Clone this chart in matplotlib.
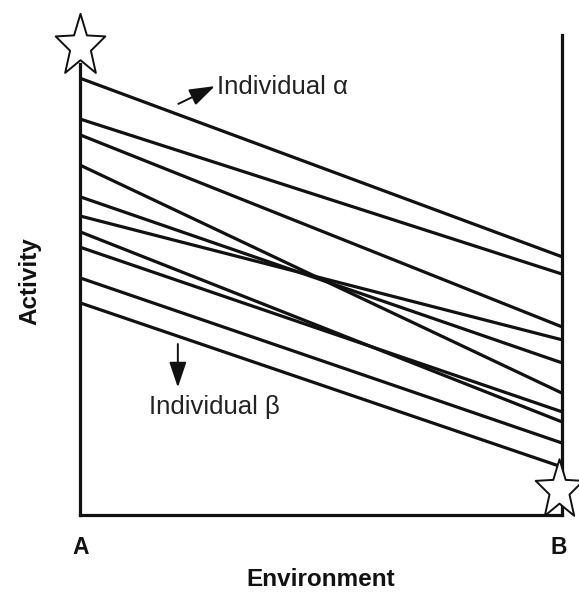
#!/usr/bin/env python3
"""Reaction norms of individuals across an environmental gradient (A -> B)."""

import matplotlib.pyplot as plt
import numpy as np
from matplotlib.path import Path

# activity of each individual in environment A and in environment B
ACTIVITY_A = [9.10, 8.25, 7.92, 7.29, 6.63, 6.23, 5.90, 5.58, 4.94, 4.42]
ACTIVITY_B = [5.38, 5.02, 3.92, 2.54, 3.17, 3.65, 1.94, 2.15, 1.50, 1.00]
ENV_TICKS = ["A", "B"]

INK = "#111111"
FONT = "Liberation Sans"


def star_marker(stretch=1.25, inner=0.42):
    """Five-point star, a bit taller than wide like the hand-drawn ones."""
    ang = np.deg2rad(90 + 36 * np.arange(10))
    r = np.where(np.arange(10) % 2 == 0, 1.0, inner)
    verts = np.column_stack([r * np.cos(ang), r * np.sin(ang) * stretch])
    verts = np.vstack([verts, verts[:1]])
    codes = [Path.MOVETO] + [Path.LINETO] * 9 + [Path.CLOSEPOLY]
    return Path(verts, codes)


fig = plt.figure(figsize=(5.79, 5.94), dpi=100)
ax = fig.add_axes([80 / 579, 79 / 594, 482 / 579, 480 / 594])
ax.set_xlim(0, 1)
ax.set_ylim(0, 10)

for a, b in zip(ACTIVITY_A, ACTIVITY_B):
    ax.plot([0, 1], [a, b], color=INK, linewidth=2.3, solid_capstyle="butt")

# axes: left line stops under the star, right one runs to the top
ax.spines["top"].set_visible(False)
for side in ("left", "right", "bottom"):
    ax.spines[side].set_linewidth(2.3)
    ax.spines[side].set_color(INK)
ax.spines["left"].set_bounds(0, 9.4)
ax.set_xticks([])
ax.set_yticks([])

star = star_marker()
ax.plot([0], [9.77], marker=star, markersize=47, markerfacecolor="white",
        markeredgecolor=INK, markeredgewidth=1.4, clip_on=False, zorder=5)
ax.plot([0.994], [0.52], marker=star, markersize=45, markerfacecolor="white",
        markeredgecolor=INK, markeredgewidth=1.4, clip_on=False, zorder=5)

# annotations
head = "-|>,head_length=0.65,head_width=0.22"
ax.annotate("", xy=(0.285, 8.96), xytext=(0.199, 8.54),
            arrowprops=dict(arrowstyle=head, color=INK, lw=1.4, mutation_scale=24))
ax.text(0.284, 8.92, "Individual α", fontsize=18.5, family=FONT,
        color="#222222", va="center", ha="left")

ax.annotate("", xy=(0.203, 2.6), xytext=(0.203, 3.62),
            arrowprops=dict(arrowstyle=head, color=INK, lw=1.4, mutation_scale=24))
ax.text(0.143, 2.25, "Individual β", fontsize=18.5, family=FONT,
        color="#222222", va="center", ha="left")

for x, lab in zip([0.002, 0.994], ENV_TICKS):
    ax.text(x, -0.67, lab, fontsize=16.5, fontweight="bold", family=FONT,
            color=INK, ha="center", va="center")

ax.text(0.5, -1.35, "Environment", fontsize=17.5, fontweight="bold",
        family=FONT, color=INK, ha="center", va="center")
ax.text(-0.104, 4.88, "Activity", fontsize=17.5, fontweight="bold",
        family=FONT, color=INK, ha="center", va="center", rotation=90)

fig.savefig("out.png", dpi=100, facecolor="white")
